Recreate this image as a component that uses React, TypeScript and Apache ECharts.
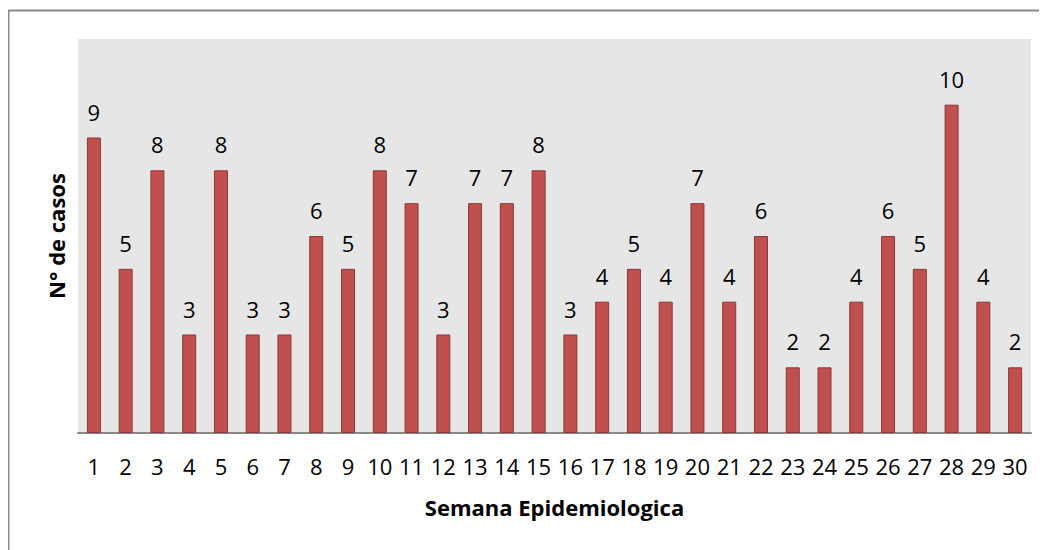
import React, { useEffect, useRef } from "react";
import * as echarts from "echarts";

const weeks: string[] = [
  "1", "2", "3", "4", "5", "6", "7", "8", "9", "10",
  "11", "12", "13", "14", "15", "16", "17", "18", "19", "20",
  "21", "22", "23", "24", "25", "26", "27", "28", "29", "30",
];
const cases: number[] = [
  9, 5, 8, 3, 8, 3, 3, 6, 5, 8,
  7, 3, 7, 7, 8, 3, 4, 5, 4, 7,
  4, 6, 2, 2, 4, 6, 5, 10, 4, 2,
];
const xTitle = "Semana Epidemiologica";
const yTitle = "N° de casos";

const FONT = "'Open Sans', sans-serif";

export default function App() {
  const ref = useRef<HTMLDivElement>(null);
  useEffect(() => {
    if (!ref.current) return;
    const chart = echarts.init(ref.current, null, { renderer: "svg" });
    chart.setOption({
      animation: false,
      textStyle: { fontFamily: FONT },
      graphic: [
        {
          type: "line",
          shape: { x1: 0.5, y1: 2.5, x2: 0.5, y2: 542 },
          style: { stroke: "#8a8a8a", lineWidth: 2 },
          silent: true,
        },
        {
          type: "line",
          shape: { x1: 0, y1: 2.5, x2: 1039, y2: 2.5 },
          style: { stroke: "#8a8a8a", lineWidth: 2 },
          silent: true,
        },
      ],
      grid: {
        left: 70,
        right: 16,
        top: 31,
        bottom: 117,
        show: true,
        backgroundColor: "#e6e6e6",
        borderWidth: 0,
      },
      xAxis: {
        type: "category",
        data: weeks,
        name: xTitle,
        nameLocation: "middle",
        nameGap: 63,
        nameTextStyle: {
          fontFamily: FONT,
          fontWeight: "bold",
          fontSize: 22,
          color: "#000",
        },
        axisLine: { show: true, lineStyle: { color: "#888", width: 2 } },
        axisTick: { show: false },
        axisLabel: {
          fontFamily: FONT,
          fontSize: 22,
          color: "#000",
          margin: 22,
          interval: 0,
        },
      },
      yAxis: {
        type: "value",
        min: 0,
        max: 12,
        name: yTitle,
        nameLocation: "middle",
        nameGap: 11,
        nameTextStyle: {
          fontFamily: FONT,
          fontWeight: "bold",
          fontSize: 22,
          color: "#000",
        },
        axisLine: { show: false },
        axisTick: { show: false },
        axisLabel: { show: false },
        splitLine: { show: false },
      },
      series: [
        {
          type: "bar",
          data: cases,
          barWidth: 14,
          itemStyle: {
            color: "#c0504d",
            borderColor: "#8c3836",
            borderWidth: 1,
          },
          label: {
            show: true,
            position: "top",
            distance: 15,
            fontFamily: FONT,
            fontSize: 22,
            color: "#000",
          },
        },
      ],
    });
    return () => chart.dispose();
  }, []);
  return <div ref={ref} style={{ width: 1039, height: 542 }} />;
}
